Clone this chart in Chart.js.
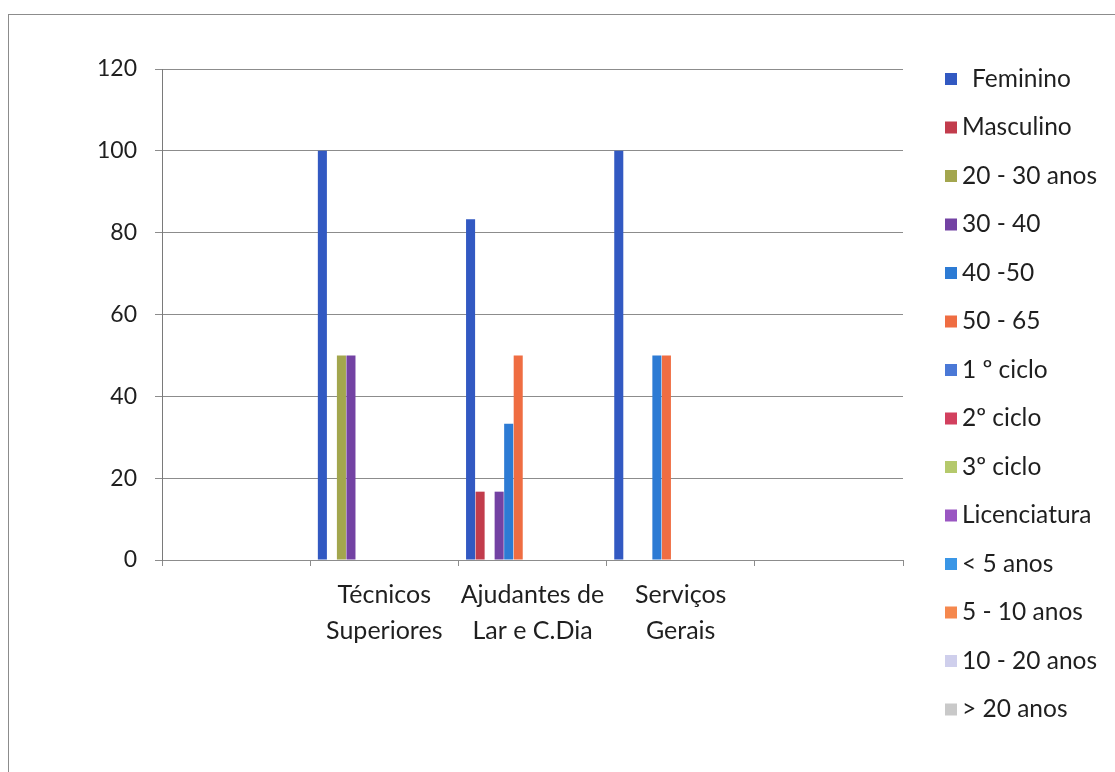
<!DOCTYPE html>
<html lang="pt">
<head>
    <meta charset="UTF-8">
    <title>Funcionários por categoria</title>
    <script src="https://cdn.jsdelivr.net/npm/chart.js"></script>
    <style>
        html, body { margin: 0; padding: 0; background: #fff; }
        #wrap { position: relative; width: 1115px; height: 772px; overflow: hidden; }
        #frame { position: absolute; left: 8px; top: 14px; width: 1130px; height: 790px; border: 1px solid #8c8c8c; }
        canvas { position: absolute; left: 0; top: 0; }
    </style>
</head>
<body>
    <div id="wrap">
        <div id="frame"></div>
        <canvas id="chart" width="1115" height="772"></canvas>
    </div>

    <script>
        // categories (first and last slots are empty in the original)
        const categories = ['', ['Técnicos', 'Superiores'], ['Ajudantes de', 'Lar e C.Dia'], ['Serviços', 'Gerais'], ''];

        const seriesNames = ['Feminino', 'Masculino', '20 - 30 anos', '30 - 40', '40 -50', '50 - 65',
            '1 º ciclo', '2º ciclo', '3º ciclo', 'Licenciatura', '< 5 anos', '5 - 10 anos', '10 - 20 anos', '> 20 anos'];

        const seriesColors = ['#3259c2', '#c23c4c', '#a3a64e', '#7342a3', '#2d7bd4', '#ef6d42',
            '#4a78d6', '#d2405e', '#b5c96c', '#9a56c2', '#3a96e6', '#f5884e', '#cfcfec', '#c9c9c9'];

        // values per series, one per category
        const feminino     = [null, 100, 83.3, 100, null];
        const masculino    = [null, 0, 16.7, 0, null];
        const anos20a30    = [null, 50, 0, 0, null];
        const anos30a40    = [null, 50, 16.7, 0, null];
        const anos40a50    = [null, 0, 33.3, 50, null];
        const anos50a65    = [null, 0, 50, 50, null];
        const ciclo1       = [null, 0, 0, 0, null];
        const ciclo2       = [null, 0, 0, 0, null];
        const ciclo3       = [null, 0, 0, 0, null];
        const licenciatura = [null, 0, 0, 0, null];
        const menos5       = [null, 0, 0, 0, null];
        const de5a10       = [null, 0, 0, 0, null];
        const de10a20      = [null, 0, 0, 0, null];
        const mais20       = [null, 0, 0, 0, null];

        const seriesValues = [feminino, masculino, anos20a30, anos30a40, anos40a50, anos50a65,
            ciclo1, ciclo2, ciclo3, licenciatura, menos5, de5a10, de10a20, mais20];

        const yTicks = [0, 20, 40, 60, 80, 100, 120];

        const FONT = 'Lato, "Open Sans", sans-serif';
        const TEXT = '#1f1f1f';

        // legend drawn by hand so it can sit exactly where the original has it
        const sideLegend = {
            id: 'sideLegend',
            afterDraw(chart) {
                const ctx = chart.ctx;
                ctx.save();
                ctx.font = '24.5px ' + FONT;
                ctx.textBaseline = 'middle';
                chart.data.datasets.forEach((ds, i) => {
                    const y = 79 + i * 48.5;
                    ctx.fillStyle = ds.backgroundColor;
                    ctx.fillRect(945, y - 6, 12, 12);
                    ctx.fillStyle = TEXT;
                    ctx.fillText(ds.label, i === 0 ? 972 : 962, y);
                });
                ctx.restore();
            }
        };

        new Chart(document.getElementById('chart'), {
            type: 'bar',
            data: {
                labels: categories,
                datasets: seriesNames.map((name, i) => ({
                    label: name,
                    data: seriesValues[i],
                    backgroundColor: seriesColors[i],
                    categoryPercentage: 0.9,
                    barPercentage: 0.95
                }))
            },
            options: {
                responsive: false,
                animation: false,
                layout: { padding: { left: 0, top: 69, right: 212, bottom: 122 } },
                plugins: {
                    legend: { display: false },
                    tooltip: { enabled: false }
                },
                scales: {
                    x: {
                        grid: { offset: true, drawOnChartArea: false, drawTicks: true, tickLength: 6, color: '#8c8c8c' },
                        border: { color: '#8c8c8c' },
                        ticks: { color: TEXT, font: { family: FONT, size: 25, lineHeight: 1.45 }, padding: 11, maxRotation: 0, autoSkip: false },
                        afterFit(scale) { scale.height = 90; }
                    },
                    y: {
                        min: 0,
                        max: 120,
                        afterBuildTicks(scale) { scale.ticks = yTicks.map(v => ({ value: v })); },
                        grid: { color: '#8c8c8c', tickLength: 7 },
                        border: { color: '#7a7a7a' },
                        ticks: { color: TEXT, font: { family: FONT, size: 23 }, padding: 18 },
                        afterFit(scale) { scale.width = 162; }
                    }
                }
            },
            plugins: [sideLegend]
        });
    </script>
</body>
</html>
